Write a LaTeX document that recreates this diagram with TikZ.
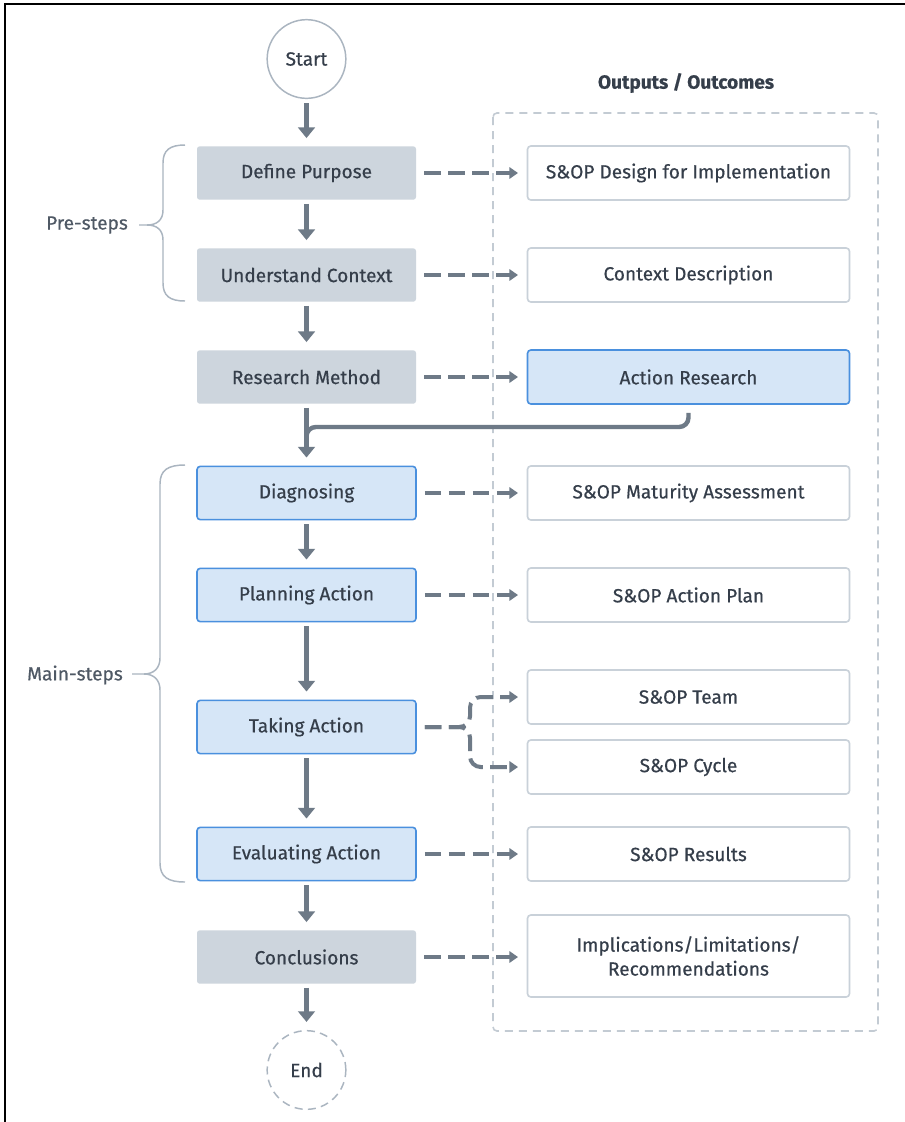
\documentclass[tikz,border=0pt]{standalone}
\usepackage{fontspec}
\setmainfont{Fira Sans}[FakeBold=0.5]
\usetikzlibrary{arrows.meta,calc}
\definecolor{txt}{HTML}{353E4A}
\definecolor{lbl}{HTML}{4F5965}
\definecolor{gfill}{HTML}{CDD5DD}
\definecolor{bfill}{HTML}{D6E6F7}
\definecolor{bdraw}{HTML}{4A90DE}
\definecolor{wdraw}{HTML}{C9D1D9}
\definecolor{arr}{HTML}{6E7A87}
\definecolor{brc}{HTML}{AAB5C0}
\definecolor{cdash}{HTML}{C3CBD3}
\tikzset{
  every node/.style={font=\fontsize{14.3}{17}\selectfont, text=txt, inner sep=0pt},
  gbox/.style={rectangle, rounded corners=2pt, fill=gfill, minimum width=164.25pt, minimum height=40pt},
  bbox/.style={rectangle, rounded corners=2.5pt, fill=bfill, draw=bdraw, line width=1.2pt, minimum width=164.25pt, minimum height=40pt},
  obox/.style={rectangle, rounded corners=2.5pt, fill=white, draw=wdraw, line width=1.2pt, minimum width=241.5pt, minimum height=40.5pt},
  obbox/.style={obox, fill=bfill, draw=bdraw},
  circ/.style={circle, draw=brc, line width=1.1pt, fill=white, minimum size=59pt},
  sarr/.style={draw=arr, line width=3.3pt, -{Triangle[width=12.5pt,length=8pt]}, shorten <=3pt, shorten >=6pt},
  darr/.style={draw=arr, line width=3pt, dash pattern=on 12.5pt off 5.5pt, -{Triangle[width=8.5pt,length=6.5pt]}, shorten <=6pt, shorten >=6.5pt},
  brace/.style={draw=brc, line width=1.1pt},
}
\begin{document}
\begin{tikzpicture}[x=0.75pt,y=-0.75pt]
\useasboundingbox (0,0) rectangle (905,1122);
\fill[white] (0,0) rectangle (905,1122);
% outer frame
\draw[black, line width=2pt] (5,1122) -- (5,4) -- (905,4);

% container
\draw[cdash, line width=1.2pt, dash pattern=on 6pt off 4.5pt, rounded corners=3pt] (493,113) rectangle (878,1031);
\node[font=\fontsize{14.3}{17}\selectfont\bfseries] (oo) at (686,83) {Outputs / Outcomes};

% left column
\node[circ] (st) at (306.5,59) {Start};
\node[gbox] (dp) at (306.5,173) {Define Purpose};
\node[gbox] (uc) at (306.5,275) {Understand Context};
\node[gbox] (rm) at (306.5,377) {Research Method};
\node[bbox] (dg) at (306.5,493) {Diagnosing};
\node[bbox] (pa) at (306.5,595) {Planning Action};
\node[bbox] (ta) at (306.5,727) {Taking Action};
\node[bbox] (ea) at (306.5,854) {Evaluating Action};
\node[gbox] (co) at (306.5,957) {Conclusions};
\node[circ, dashed, dash pattern=on 6pt off 4pt] (en) at (306.5,1070) {End};

% right column
\node[obox] (o1) at (688.5,173) {S\&OP Design for Implementation};
\node[obox] (o2) at (688.5,275) {Context Description};
\node[obbox] (o3) at (688.5,377) {Action Research};
\node[obox] (o4) at (688.5,493) {S\&OP Maturity Assessment};
\node[obox] (o5) at (688.5,595) {S\&OP Action Plan};
\node[obox] (o6) at (688.5,697) {S\&OP Team};
\node[obox] (o7) at (688.5,767) {S\&OP Cycle};
\node[obox] (o8) at (688.5,854) {S\&OP Results};
\node[obox, minimum height=61.5pt, align=center] (o9) at (688.5,956) {Implications/Limitations/\\[1pt]Recommendations};

% vertical arrows
\draw[sarr] (st) -- (dp);
\draw[sarr] (dp) -- (uc);
\draw[sarr] (uc) -- (rm);
\draw[sarr] (rm) -- (dg);
\draw[sarr] (dg) -- (pa);
\draw[sarr] (pa) -- (ta);
\draw[sarr] (ta) -- (ea);
\draw[sarr] (ea) -- (co);
\draw[sarr] (co) -- (en);

% action research feedback
\coordinate (mg) at (306.5,427);
\draw[draw=arr, line width=3.3pt, rounded corners=7pt] ([yshift=-6pt]o3.south) |- (mg) -- (306.5,447);

% dashed arrows
\draw[darr] (dp) -- (o1);
\draw[darr] (uc) -- (o2);
\draw[darr] (rm) -- (o3);
\draw[darr] (dg) -- (o4);
\draw[darr] (pa) -- (o5);
\draw[darr] (ea) -- (o8);
\draw[darr] (co.east) -- (co.east -| o9.west);
\coordinate (sp) at (470,727);
\draw[darr, rounded corners=8pt] (ta.east) -- (sp) |- (o6.west);
\draw[darr, rounded corners=8pt] (ta.east) -- (sp) |- (o7.west);

% braces
\node[text=lbl] (pre) at (87,225) {Pre-steps};
\draw[brace] (185,145) .. controls (170,145) and (163,150) .. (163,163) -- (163,210)
  .. controls (163,220) and (157,225) .. (147,225) -- (139,225);
\draw[brace] (185,301) .. controls (170,301) and (163,296) .. (163,283) -- (163,240)
  .. controls (163,230) and (157,225) .. (147,225);
\node[text=lbl] (main) at (75,675) {Main-steps};
\draw[brace] (185,465) .. controls (168,465) and (160,470) .. (160,484) -- (160,658)
  .. controls (160,668) and (154,674) .. (144,674) -- (132,674);
\draw[brace] (185,882) .. controls (168,882) and (160,877) .. (160,863) -- (160,690)
  .. controls (160,680) and (154,674) .. (144,674);
\end{tikzpicture}
\end{document}
